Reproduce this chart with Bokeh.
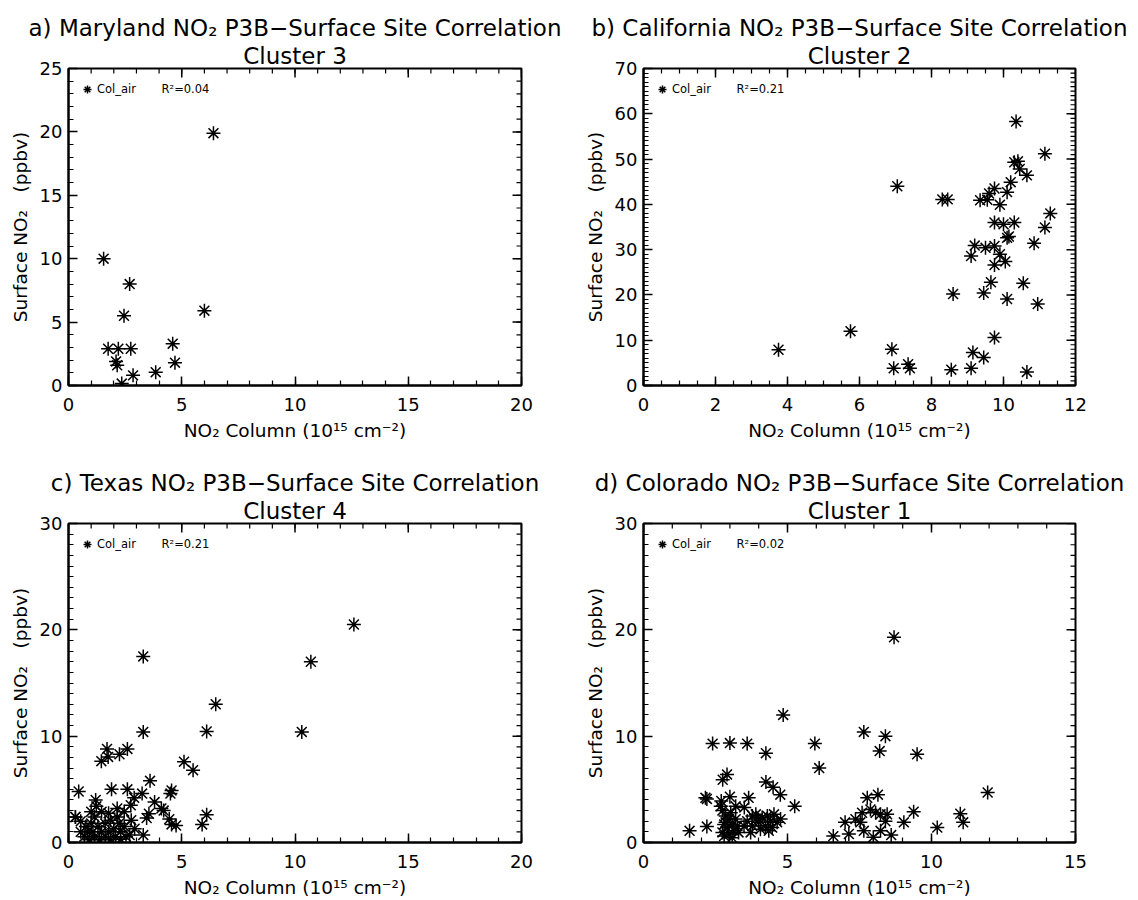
from bokeh.plotting import figure
from bokeh.models import Range1d, FixedTicker, Title, Legend, LegendItem
from bokeh.layouts import gridplot
from bokeh.embed import file_html
from bokeh.resources import INLINE
import numpy as np

# ---------------- data ----------------
# a) Maryland, cluster 3
md_x = [6.4, 1.55, 2.7, 2.45, 6.0, 1.75, 2.2, 2.75, 4.6, 2.1, 2.15, 4.7, 2.85, 3.85, 2.35]
md_y = [19.9, 10.0, 8.0, 5.5, 5.9, 2.9, 2.9, 2.9, 3.3, 1.9, 1.6, 1.8, 0.8, 1.05, 0.15]

# b) California, cluster 2
ca_x = [10.35, 11.15, 10.3, 10.4, 10.45, 10.65, 10.2, 10.1, 9.75, 9.6, 9.35, 9.55, 9.9,
        8.3, 8.45, 7.05, 9.75, 10.0, 10.3, 11.3, 11.15, 10.15, 10.1, 9.2, 9.5, 9.75, 9.1,
        9.9, 10.85, 9.75, 10.05, 9.65, 10.55, 9.45, 8.6, 10.1, 10.95, 9.75, 9.15, 9.45,
        9.1, 8.55, 10.65, 6.9, 6.95, 7.35, 7.4, 5.75, 3.75]
ca_y = [58.3, 51.2, 49.3, 49.5, 47.8, 46.4, 44.9, 42.7, 43.5, 42.4, 40.9, 41.0, 39.9,
        41.1, 41.1, 44.0, 36.0, 35.6, 36.0, 38.0, 34.9, 32.9, 32.6, 30.9, 30.4, 30.8, 28.6,
        29.0, 31.4, 26.6, 27.4, 22.8, 22.6, 20.4, 20.2, 19.1, 18.0, 10.6, 7.3, 6.2,
        3.8, 3.5, 3.0, 8.0, 3.8, 4.7, 3.8, 12.0, 7.9]

# c) Texas, cluster 4
tx_x = [12.6, 10.7, 10.3, 3.3, 6.5, 3.3, 6.1, 5.1, 5.5, 6.1, 5.9, 1.7, 2.6, 1.45, 1.75,
        2.25, 0.45, 1.9, 2.6, 3.6, 3.25, 2.9, 4.55, 4.5, 1.2, 2.75, 3.8, 4.1, 4.2, 3.55,
        3.45, 4.45, 4.55, 4.75, 3.3, 0.3,
        0.31, 0.54, 0.77, 1.0, 0.85, 1.15, 1.3, 1.46, 1.62, 1.85, 2.0, 2.15, 2.23, 2.3,
        2.46, 1.15, 1.62, 2.08, 2.54, 0.7, 1.46, 1.77, 1.0, 1.23, 2.77, 2.92, 2.7, 0.92,
        1.38, 1.85, 2.3, 0.54, 1.77, 1.08, 2.15, 2.46]
tx_y = [20.5, 17.0, 10.4, 17.5, 13.0, 10.4, 10.45, 7.6, 6.8, 2.6, 1.7, 8.8, 8.8, 7.65, 8.05,
        8.3, 4.8, 5.0, 5.0, 5.8, 4.6, 4.2, 4.9, 4.6, 4.0, 3.5, 3.8, 3.2, 3.0, 2.7,
        2.3, 2.2, 1.7, 1.6, 0.7, 2.4,
        2.4, 2.0, 1.5, 1.8, 1.0, 2.4, 1.5, 1.0, 1.8, 2.1, 1.3, 2.4, 1.8, 1.0,
        1.5, 0.55, 0.55, 0.55, 0.55, 0.55, 2.9, 2.75, 2.9, 3.4, 2.1, 1.3, 0.7, 0.25,
        0.25, 0.25, 0.3, 1.0, 1.0, 1.0, 3.2, 2.9]

# d) Colorado, cluster 1
co_x = [8.7, 4.85, 7.65, 8.4, 8.2, 9.5, 2.4, 3.0, 3.6, 4.25, 5.95, 6.1, 2.9, 2.75, 4.25,
        4.5, 4.75, 5.25, 2.15, 2.2, 2.7, 3.0, 3.65, 3.2, 3.5, 1.6, 2.2,
        7.77, 8.14, 7.59, 7.88, 8.06, 8.23, 8.46, 8.4, 7.53, 7.65, 8.23, 7.36, 7.0, 6.59,
        7.13, 7.98, 8.6, 9.04, 9.38, 10.2, 11.0, 11.1, 11.95,
        2.74, 2.85, 2.97, 2.8, 2.91, 3.08, 3.2, 2.74, 2.97, 3.14, 3.26, 2.68, 2.85, 3.03,
        2.8, 3.08,
        3.6, 3.78, 3.9, 4.0, 4.12, 4.24, 4.41, 4.53, 4.64, 4.76, 4.35, 4.06, 3.78, 3.72,
        4.47, 3.9, 4.3, 3.49, 3.3]
co_y = [19.3, 12.0, 10.4, 10.0, 8.6, 8.3, 9.3, 9.35, 9.3, 8.4, 9.3, 7.0, 6.4, 5.9, 5.7,
        5.2, 4.5, 3.4, 4.2, 4.1, 3.9, 4.3, 4.2, 3.4, 3.3, 1.1, 1.5,
        4.2, 4.5, 2.8, 3.1, 2.8, 2.65, 2.65, 2.0, 1.9, 1.1, 1.1, 2.2, 1.9, 0.6,
        0.8, 0.5, 0.7, 1.9, 2.9, 1.4, 2.7, 1.9, 4.7,
        3.0, 2.5, 2.2, 1.7, 1.4, 1.7, 2.2, 0.95, 0.8, 1.1, 1.55, 3.4, 1.9, 2.8,
        0.6, 0.45,
        2.0, 2.5, 2.65, 1.9, 2.35, 1.55, 2.0, 2.65, 1.9, 2.2, 1.1, 1.25, 1.55, 0.95,
        1.4, 2.2, 2.5, 1.55, 0.95]

titles = ["a) Maryland NO\u2082 P3B\u2212Surface Site Correlation",
          "b) California NO\u2082 P3B\u2212Surface Site Correlation",
          "c) Texas NO\u2082 P3B\u2212Surface Site Correlation",
          "d) Colorado NO\u2082 P3B\u2212Surface Site Correlation"]
clusters = ["Cluster 3", "Cluster 2", "Cluster 4", "Cluster 1"]
r2_labels = ["R\u00b2=0.04", "R\u00b2=0.21", "R\u00b2=0.21", "R\u00b2=0.02"]
series_name = "Col_air"
x_title = "NO\u2082 Column (10\u00b9\u2075 cm\u207b\u00b2)"
y_title = "Surface NO\u2082\u00a0\u00a0\u00a0(ppbv)"

FONT = "DejaVu Sans"
MAJ_LEN = 9
MIN_LEN = 5


def style_axis(ax):
    ax.axis_line_width = 2
    ax.axis_line_color = "black"
    ax.major_tick_in = MAJ_LEN
    ax.major_tick_out = 0
    ax.minor_tick_in = MIN_LEN
    ax.minor_tick_out = 0
    ax.major_tick_line_width = 1.5
    ax.minor_tick_line_width = 1.2
    ax.major_tick_line_color = "black"
    ax.minor_tick_line_color = "black"
    ax.major_label_text_font = FONT
    ax.major_label_text_font_size = "18px"
    ax.major_label_text_color = "black"
    ax.axis_label_text_font = FONT
    ax.axis_label_text_font_size = "18.5px"
    ax.axis_label_text_font_style = "normal"
    ax.axis_label_text_color = "black"


def panel(xs, ys, xmax, ymax, xstep, xminor, ystep, yminor, t1, t2, r2,
          height, bl, br, bt, bb):
    p = figure(width=569, height=height, x_range=Range1d(0, xmax), y_range=Range1d(0, ymax),
               output_backend="svg", toolbar_location=None,
               min_border_left=bl, min_border_right=br, min_border_top=bt, min_border_bottom=bb)
    p.xgrid.visible = False
    p.ygrid.visible = False
    p.outline_line_color = "black"
    p.outline_line_width = 2
    p.outline_line_alpha = 1.0
    p.background_fill_color = "white"
    p.border_fill_color = "white"

    x_major = list(np.arange(0, xmax + 1e-9, xstep))
    x_minor = list(np.arange(0, xmax + 1e-9, xminor))
    y_major = list(np.arange(0, ymax + 1e-9, ystep))
    y_minor = list(np.arange(0, ymax + 1e-9, yminor))
    p.xaxis.ticker = FixedTicker(ticks=x_major, minor_ticks=x_minor)
    p.yaxis.ticker = FixedTicker(ticks=y_major, minor_ticks=y_minor)
    p.xaxis.axis_label = x_title
    p.yaxis.axis_label = y_title
    style_axis(p.xaxis[0])
    style_axis(p.yaxis[0])
    p.xaxis.major_label_standoff = 12
    p.yaxis.major_label_standoff = 6
    p.xaxis.axis_label_standoff = 6
    p.yaxis.axis_label_standoff = 6

    # inward ticks along the top and right edges of the box
    p.ray(x=x_minor, y=[ymax] * len(x_minor), length=MIN_LEN, length_units="screen",
          angle=-np.pi / 2, line_color="black", line_width=1.2)
    p.ray(x=x_major, y=[ymax] * len(x_major), length=MAJ_LEN, length_units="screen",
          angle=-np.pi / 2, line_color="black", line_width=1.5)
    p.ray(x=[xmax] * len(y_minor), y=y_minor, length=MIN_LEN, length_units="screen",
          angle=np.pi, line_color="black", line_width=1.2)
    p.ray(x=[xmax] * len(y_major), y=y_major, length=MAJ_LEN, length_units="screen",
          angle=np.pi, line_color="black", line_width=1.5)

    # two-line centred title: sub line added first sits closest to the frame
    p.add_layout(Title(text=t2, align="center", text_font=FONT, text_font_size="23px",
                       text_font_style="normal", text_color="black", standoff=0), "above")
    p.add_layout(Title(text=t1, align="center", text_font=FONT, text_font_size="23px",
                       text_font_style="normal", text_color="black", standoff=0), "above")

    r = p.scatter(xs, ys, marker="asterisk", size=14, line_color="black", line_width=1.5)
    lab = series_name + "\u00a0" * 7 + r2
    leg = Legend(items=[LegendItem(label=lab, renderers=[r])], location="top_left",
                 label_text_font=FONT, label_text_font_size="11.5px", label_text_color="black",
                 glyph_width=20, glyph_height=24, label_standoff=0,
                 margin=9, padding=3, border_line_color=None, background_fill_alpha=0)
    p.add_layout(leg)
    return p


pa = panel(md_x, md_y, 20, 25, 5, 1, 5, 1, titles[0], clusters[0], r2_labels[0],
           455, 68, 48, 68, 70)
pb = panel(ca_x, ca_y, 12, 70, 2, 0.5, 10, 1, titles[1], clusters[1], r2_labels[1],
           455, 74, 63, 68, 70)
pc = panel(tx_x, tx_y, 20, 30, 5, 1, 10, 1, titles[2], clusters[2], r2_labels[2],
           445, 68, 48, 68, 57)
pd_ = panel(co_x, co_y, 15, 30, 5, 1, 10, 1, titles[3], clusters[3], r2_labels[3],
            445, 74, 63, 68, 57)

grid = gridplot([[pa, pb], [pc, pd_]], toolbar_location=None)

open("out.html", "w").write(file_html(grid, INLINE))
